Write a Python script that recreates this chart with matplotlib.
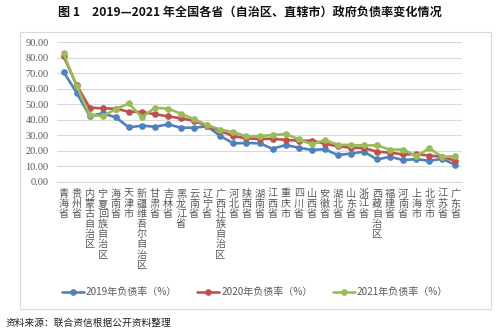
import matplotlib.pyplot as plt
from matplotlib.patches import Rectangle

plt.rcParams['font.family'] = ['Noto Sans CJK SC', 'DejaVu Sans']

provinces = ['青海省', '贵州省', '内蒙古自治区', '宁夏回族自治区', '海南省', '天津市',
             '新疆维吾尔自治区', '甘肃省', '吉林省', '黑龙江省', '云南省', '辽宁省',
             '广西壮族自治区', '河北省', '陕西省', '湖南省', '江西省', '重庆市', '四川省',
             '山西省', '安徽省', '湖北省', '山东省', '浙江省', '西藏自治区', '福建省',
             '河南省', '上海市', '北京市', '江苏省', '广东省']

rate_2019 = [71.0, 57.5, 42.5, 44.1, 41.6, 35.1, 36.2, 35.5, 37.0, 34.9, 34.9,
             35.8, 29.5, 24.8, 25.0, 24.8, 21.3, 23.7, 22.0, 20.5, 21.0, 17.2,
             18.2, 19.4, 14.4, 16.1, 14.0, 14.6, 13.5, 14.8, 10.8]
rate_2020 = [81.1, 62.4, 47.8, 47.4, 47.2, 45.2, 45.0, 43.6, 42.2, 40.9, 39.3,
             36.0, 32.8, 29.5, 28.0, 27.6, 27.8, 27.0, 26.5, 26.5, 24.6, 22.9,
             22.0, 21.7, 19.4, 18.8, 17.6, 17.8, 16.9, 16.1, 13.5]
rate_2021 = [82.9, 61.8, 43.1, 42.4, 46.9, 50.6, 41.6, 47.8, 47.2, 43.9, 40.3,
             36.5, 33.7, 32.0, 29.3, 29.4, 30.2, 30.7, 27.5, 24.1, 26.9, 23.9,
             23.7, 23.5, 23.4, 20.7, 20.8, 16.6, 21.5, 16.1, 16.4]

series = [('2019年负债率（%）', rate_2019, '#4F81BD'),
          ('2020年负债率（%）', rate_2020, '#C0504D'),
          ('2021年负债率（%）', rate_2021, '#9BBB59')]

fig = plt.figure(figsize=(5.0, 3.31), dpi=100)

# chart frame
fig.patches.append(Rectangle((20 / 500, 1 - 309 / 331), 471 / 500, 277 / 331,
                             transform=fig.transFigure, fill=False,
                             edgecolor='#d9d9d9', linewidth=0.8))

ax = fig.add_axes([0.114, 0.451, 0.81, 0.421])
x = list(range(len(provinces)))
for label, vals, color in series:
    ax.plot(x, vals, color=color, linewidth=1.9, marker='o', markersize=3.8,
            label=label, solid_capstyle='round')

ax.set_xlim(-0.5, len(provinces) - 0.5)
ax.set_ylim(0, 90)
ax.set_yticks(range(0, 91, 10))
ax.set_yticklabels(['%.2f' % v for v in range(0, 91, 10)],
                   fontfamily='Liberation Serif', fontsize=7.5, color='#595959')
ax.yaxis.grid(True, color='#d9d9d9', linewidth=0.8)
ax.set_axisbelow(True)
for side in ['top', 'right', 'left']:
    ax.spines[side].set_visible(False)
ax.spines['bottom'].set_color('#d9d9d9')
ax.tick_params(axis='y', length=0, pad=6)
ax.tick_params(axis='x', length=0, pad=5)
ax.set_xticks(x)
ax.set_xticklabels(['\n'.join(p) for p in provinces], fontsize=7.3, color='#595959',
                   linespacing=1.02, va='top')

fig.text(0.5, 0.962, '图 1　2019—2021 年全国各省（自治区、直辖市）政府负债率变化情况',
         ha='center', va='center', fontsize=8.7, fontweight='bold', color='#111111')

handles, labels = ax.get_legend_handles_labels()
fig.legend(handles, labels, loc='center', bbox_to_anchor=(0.51, 1 - 292 / 331),
           ncol=3, frameon=False, fontsize=7.2, handlelength=2.2, handletextpad=0.2,
           columnspacing=2.0, labelcolor='#595959')

fig.text(0.012, 1 - 323 / 331, '资料来源：联合资信根据公开资料整理',
         ha='left', va='center', fontsize=7, color='#222222')

fig.savefig('out.png', dpi=100)
